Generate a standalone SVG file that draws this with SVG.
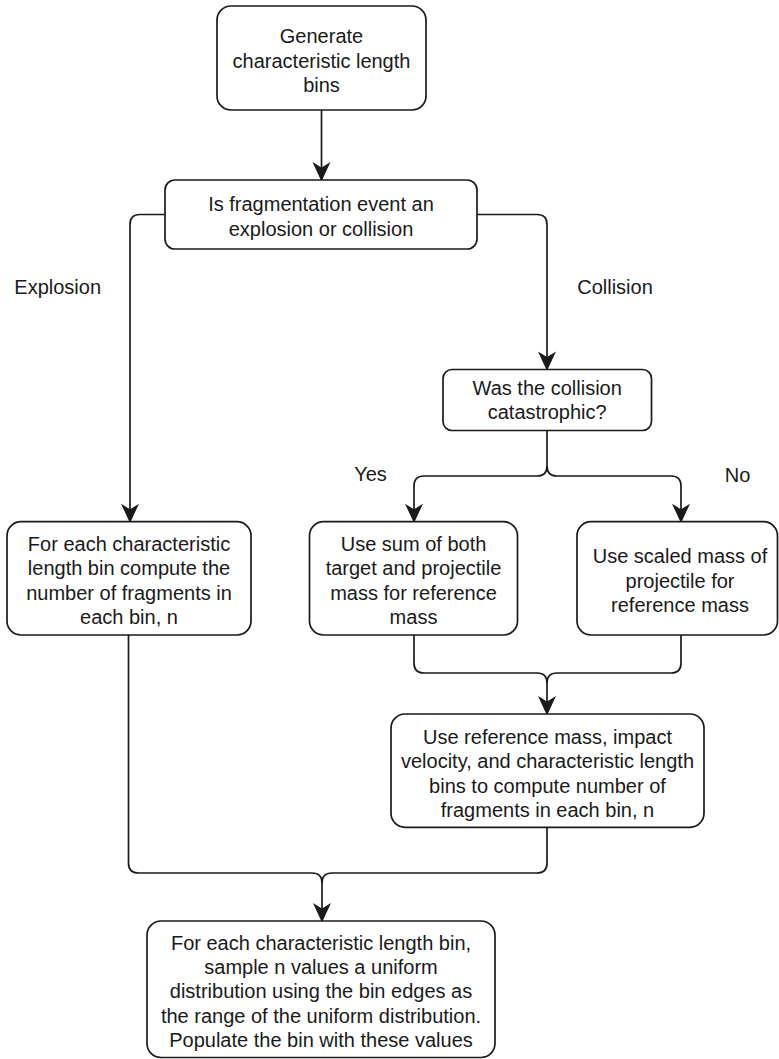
<svg xmlns="http://www.w3.org/2000/svg" width="779" height="1059" viewBox="0 0 779 1059">
<style>
.box{fill:#ffffff;stroke:#1a1a1a;stroke-width:1.7}
.t{font-family:"Liberation Sans",Arial,Helvetica,sans-serif;font-size:20px;fill:#1a1a1a;text-anchor:middle}
.c{fill:none;stroke:#1a1a1a;stroke-width:1.7}
</style>
<defs>
<marker id="arr" markerUnits="userSpaceOnUse" markerWidth="20" markerHeight="20" refX="0" refY="0" viewBox="-16 -8 17 16" orient="auto" overflow="visible">
<path d="M0,0 L-14,-6.5 L-10,0 L-14,6.5 Z" fill="#1a1a1a" stroke="#1a1a1a" stroke-width="1"/>
</marker>
</defs>
<rect width="779" height="1059" fill="#ffffff"/>

<g id="connectors">
<path class="c" d="M321.5,110 V180" marker-end="url(#arr)"/>
<path class="c" d="M165,214.5 H140 Q130,214.5 130,224.5 V521.7" marker-end="url(#arr)"/>
<path class="c" d="M477,214.5 H537 Q547,214.5 547,224.5 V369.5" marker-end="url(#arr)"/>
<path class="c" d="M547,430.5 V466 Q547,476 537,476 H424 Q414,476 414,486 V521.7" marker-end="url(#arr)"/>
<path class="c" d="M547,466 Q547,476 557,476 H671 Q681,476 681,486 V521.7" marker-end="url(#arr)"/>
<path class="c" d="M414,635 V663 Q414,673 424,673 H537 Q547,673 547,683 V714" marker-end="url(#arr)"/>
<path class="c" d="M681,635 V663 Q681,673 671,673 H557 Q547,673 547,683"/>
<path class="c" d="M128.5,635 V863 Q128.5,873 138.5,873 H312 Q322,873 322,883 V921" marker-end="url(#arr)"/>
<path class="c" d="M547,827.3 V863 Q547,873 537,873 H332 Q322,873 322,883"/>
<text class="t" x="57.7" y="294">Explosion</text>
<text class="t" x="615" y="294">Collision</text>
<text class="t" x="370.5" y="481">Yes</text>
<text class="t" x="737.5" y="482">No</text>
</g>

<g id="generate">
<rect class="box" x="217" y="6" width="209" height="104" rx="14"/>
<text class="t" x="321.5" y="43">Generate</text>
<text class="t" x="321.5" y="67.5">characteristic length</text>
<text class="t" x="321.5" y="92">bins</text>
</g>

<g id="event-type">
<rect class="box" x="165" y="180" width="312" height="69" rx="10"/>
<text class="t" x="321" y="211">Is fragmentation event an</text>
<text class="t" x="321" y="235.5">explosion or collision</text>
</g>

<g id="catastrophic">
<rect class="box" x="443" y="369.5" width="208.5" height="61" rx="9"/>
<text class="t" x="547.2" y="394.5">Was the collision</text>
<text class="t" x="547.2" y="419">catastrophic?</text>
</g>

<g id="explosion-bins">
<rect class="box" x="7" y="521.7" width="244" height="113.3" rx="14"/>
<text class="t" x="129" y="550.5">For each characteristic</text>
<text class="t" x="129" y="575">length bin compute the</text>
<text class="t" x="129" y="599.5">number of fragments in</text>
<text class="t" x="129" y="624">each bin, n</text>
</g>

<g id="sum-mass">
<rect class="box" x="309.5" y="521.7" width="208" height="113.3" rx="14"/>
<text class="t" x="413.5" y="550.5">Use sum of both</text>
<text class="t" x="413.5" y="575">target and projectile</text>
<text class="t" x="413.5" y="599.5">mass for reference</text>
<text class="t" x="413.5" y="624">mass</text>
</g>

<g id="scaled-mass">
<rect class="box" x="577" y="521.7" width="200.5" height="113.3" rx="14"/>
<text class="t" x="680" y="563">Use scaled mass of</text>
<text class="t" x="680" y="587.5">projectile for</text>
<text class="t" x="680" y="612">reference mass</text>
</g>

<g id="collision-bins">
<rect class="box" x="391" y="714" width="313" height="113.3" rx="14"/>
<text class="t" x="547.5" y="743.5">Use reference mass, impact</text>
<text class="t" x="547.5" y="768">velocity, and characteristic length</text>
<text class="t" x="547.5" y="792.5">bins to compute number of</text>
<text class="t" x="547.5" y="817">fragments in each bin, n</text>
</g>

<g id="sample">
<rect class="box" x="147" y="921" width="348" height="136.5" rx="14"/>
<text class="t" x="321" y="950">For each characteristic length bin,</text>
<text class="t" x="321" y="974.2">sample n values a uniform</text>
<text class="t" x="321" y="998.4">distribution using the bin edges as</text>
<text class="t" x="321" y="1022.6">the range of the uniform distribution.</text>
<text class="t" x="321" y="1046.8">Populate the bin with these values</text>
</g>
</svg>
